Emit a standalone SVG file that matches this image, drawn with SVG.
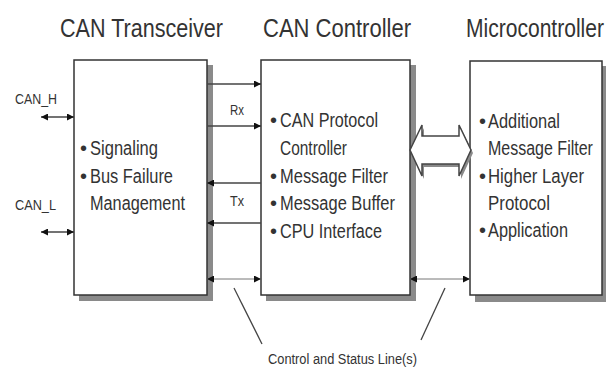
<svg xmlns="http://www.w3.org/2000/svg" width="606" height="367" viewBox="0 0 606 367">
<style>
text{font-family:"Liberation Sans",Arial,sans-serif;fill:#333}
.title{font-size:26px}
.body{font-size:20px}
.small{font-size:14px}
.box{fill:#fff;stroke:#333;stroke-width:1.5}
.shadow{fill:#8a8a8a}
.ln{stroke:#444;stroke-width:1.3;fill:none}
.thin{stroke:#777;stroke-width:1;fill:none}
</style>
<defs>
<marker id="ah" viewBox="0 0 10 10" refX="10" refY="5" markerWidth="7" markerHeight="7" markerUnits="userSpaceOnUse" orient="auto-start-reverse">
<path d="M0,0 L10,5 L0,10 Z" fill="#111"/>
</marker>
</defs>
<g id="titles">
<text class="title" x="60" y="37" textLength="163" lengthAdjust="spacingAndGlyphs">CAN Transceiver</text>
<text class="title" x="263" y="37" textLength="148" lengthAdjust="spacingAndGlyphs">CAN Controller</text>
<text class="title" transform="translate(466,37) scale(0.81,1)" x="0" y="0">Microcontroller</text>
</g>
<g id="transceiver">
<rect class="shadow" x="79" y="65" width="134" height="236"/>
<rect class="box" x="74" y="60" width="133" height="235"/>
<text class="body" x="80" y="155">•</text>
<text class="body" x="90" y="155" textLength="68" lengthAdjust="spacingAndGlyphs">Signaling</text>
<text class="body" x="80" y="183">•</text>
<text class="body" x="90" y="183" textLength="83" lengthAdjust="spacingAndGlyphs">Bus Failure</text>
<text class="body" x="90" y="210" textLength="95" lengthAdjust="spacingAndGlyphs">Management</text>
</g>
<g id="controller">
<rect class="shadow" x="266" y="65" width="150" height="236"/>
<rect class="box" x="261" y="60" width="149" height="235"/>
<text class="body" x="270" y="127">•</text>
<text class="body" x="280" y="127" textLength="98" lengthAdjust="spacingAndGlyphs">CAN Protocol</text>
<text class="body" x="280" y="155" textLength="67" lengthAdjust="spacingAndGlyphs">Controller</text>
<text class="body" x="270" y="183">•</text>
<text class="body" x="280" y="183" textLength="108" lengthAdjust="spacingAndGlyphs">Message Filter</text>
<text class="body" x="270" y="210">•</text>
<text class="body" x="280" y="210" textLength="115" lengthAdjust="spacingAndGlyphs">Message Buffer</text>
<text class="body" x="270" y="238">•</text>
<text class="body" x="280" y="238" textLength="102" lengthAdjust="spacingAndGlyphs">CPU Interface</text>
</g>
<g id="microcontroller">
<rect class="shadow" x="475" y="66" width="135" height="236"/>
<rect class="box" x="470" y="61" width="132" height="234"/>
<text class="body" x="479" y="128">•</text>
<text class="body" x="488" y="128" textLength="72" lengthAdjust="spacingAndGlyphs">Additional</text>
<text class="body" transform="translate(488,155) scale(0.8,1)" x="0" y="0">Message Filter</text>
<text class="body" x="479" y="183">•</text>
<text class="body" x="488" y="183" textLength="96" lengthAdjust="spacingAndGlyphs">Higher Layer</text>
<text class="body" x="488" y="210" textLength="62" lengthAdjust="spacingAndGlyphs">Protocol</text>
<text class="body" x="479" y="237">•</text>
<text class="body" x="488" y="237" textLength="80" lengthAdjust="spacingAndGlyphs">Application</text>
</g>
<g id="connectors">
<line class="ln" x1="207" y1="84" x2="261" y2="84" marker-end="url(#ah)"/>
<line class="ln" x1="207" y1="126" x2="261" y2="126" marker-end="url(#ah)"/>
<line class="ln" x1="261" y1="183" x2="207" y2="183" marker-end="url(#ah)"/>
<line class="ln" x1="261" y1="223" x2="207" y2="223" marker-end="url(#ah)"/>
<line class="thin" x1="207" y1="279" x2="261" y2="279" marker-start="url(#ah)" marker-end="url(#ah)"/>
<line class="thin" x1="410" y1="279" x2="470" y2="279" marker-start="url(#ah)" marker-end="url(#ah)"/>
<line class="ln" x1="41" y1="117" x2="74" y2="117" marker-start="url(#ah)" marker-end="url(#ah)"/>
<line class="ln" x1="41" y1="232" x2="74" y2="232" marker-start="url(#ah)" marker-end="url(#ah)"/>
<line class="ln" x1="234" y1="288" x2="262" y2="344"/>
<line class="ln" x1="445" y1="288" x2="421" y2="340"/>
<polygon points="412,153 424,128 424,139 461,139 461,128 473,153 461,179 461,167 424,167 424,179" fill="#8a8a8a"/>
<polygon points="410,150 422,125 422,136 459,136 459,125 471,150 459,176 459,164 422,164 422,176" fill="#fff" stroke="#444" stroke-width="1.5"/>
</g>
<g id="labels">
<text class="small" x="237" y="115" text-anchor="middle" textLength="14" lengthAdjust="spacingAndGlyphs">Rx</text>
<text class="small" x="237" y="206" text-anchor="middle" textLength="14" lengthAdjust="spacingAndGlyphs">Tx</text>
<text class="small" x="15" y="104" textLength="42" lengthAdjust="spacingAndGlyphs">CAN_H</text>
<text class="small" x="15" y="210" textLength="41" lengthAdjust="spacingAndGlyphs">CAN_L</text>
<text class="small" x="268" y="364" textLength="149" lengthAdjust="spacingAndGlyphs">Control and Status Line(s)</text>
</g>
</svg>
